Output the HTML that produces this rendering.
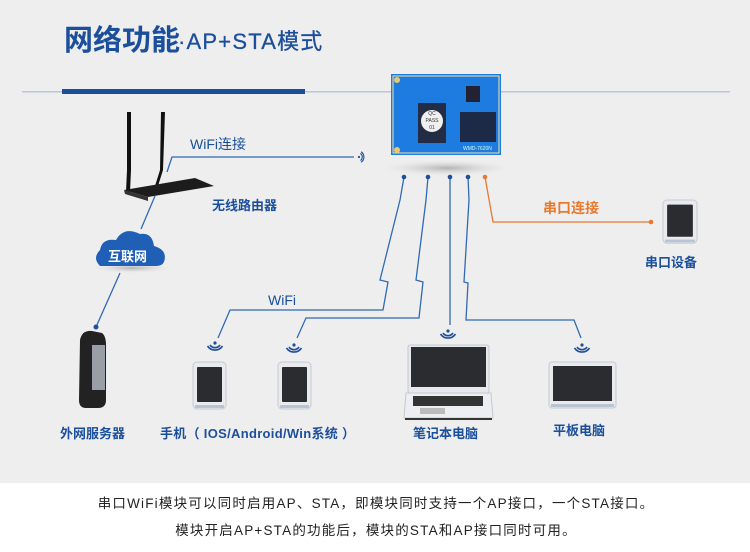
<!DOCTYPE html>
<html><head><meta charset="utf-8">
<style>
html,body{margin:0;padding:0;width:750px;height:552px;overflow:hidden;background:#eeeeee}
svg{display:block}
text{font-family:"Liberation Sans","Noto Sans CJK SC",sans-serif}
</style></head><body>
<svg width="750" height="552" viewBox="0 0 750 552" xmlns="http://www.w3.org/2000/svg">
<defs>
<radialGradient id="sh" cx="50%" cy="50%" r="50%"><stop offset="0" stop-color="#999" stop-opacity=".7"/><stop offset="1" stop-color="#ddd" stop-opacity="0"/></radialGradient>
<g id="wf"><circle cx="0" cy="0" r="1.6" fill="#1f4f9a"/><path d="M-5,2 A6,6 0 0,0 5,2" fill="none" stroke="#1f4f9a" stroke-width="1.6"/><path d="M-7.5,3 A9,9 0 0,0 7.5,3" fill="none" stroke="#1f4f9a" stroke-width="1.6"/></g>
<g id="ph"><rect x="0" y="0" width="33" height="47" rx="4" fill="#e8eaee" stroke="#c7cbd2"/><rect x="4" y="5" width="25" height="35" rx="1" fill="#2a2c30"/><rect x="2" y="43" width="29" height="3" fill="#b8c4d2"/></g>
</defs>
<rect x="0" y="0" width="750" height="483" fill="#eeeeee"/>
<rect x="0" y="483" width="750" height="69" fill="#ffffff"/>
<!-- title -->
<text x="64" y="50" font-size="29" font-weight="bold" fill="#1b4f9c">网络功能</text>
<text x="178" y="49" font-size="22" fill="#1b4f9c" letter-spacing="1.2" stroke="#1b4f9c" stroke-width="0.3">·AP+STA模式</text>
<rect x="22" y="91" width="708" height="1.5" fill="#b9c6d6"/>
<rect x="62" y="89" width="243" height="5" fill="#1b4f9c"/>
<!-- board -->
<ellipse cx="447" cy="168" rx="65" ry="8" fill="url(#sh)"/>
<rect x="391" y="74" width="110" height="81" fill="#1e7be0"/>
<rect x="393" y="76" width="106" height="77" fill="none" stroke="#f4e3a0" stroke-width="1"/>
<rect x="418" y="103" width="28" height="40" fill="#222c44"/>
<circle cx="432" cy="121" r="11" fill="#f0f0f0"/>
<text x="432" y="115" font-size="5" fill="#333" text-anchor="middle">QC</text>
<text x="432" y="122" font-size="5" fill="#333" text-anchor="middle">PASS</text>
<text x="432" y="129" font-size="5" fill="#333" text-anchor="middle">01</text>
<rect x="460" y="112" width="36" height="30" fill="#1c2a48"/>
<rect x="466" y="86" width="14" height="16" fill="#223"/>
<text x="463" y="150" font-size="5" fill="#cfe">WMD-7620N</text>
<circle cx="397" cy="80" r="3" fill="#e8c870"/><circle cx="397" cy="150" r="3" fill="#e8c870"/>
<!-- router -->
<path d="M127,112 L131,112 L131,170 L130,192 L126,192 L127,170Z" fill="#111"/>
<path d="M161,112 L165,112 L163,170 L158,186 L155,186 L160,170Z" fill="#111"/>
<path d="M124,190 L195,178 L214,186 L148,197 Z" fill="#1c1c1c"/>
<path d="M124,190 L148,197 L148,201 L125,194Z" fill="#333"/>
<path d="M167,172 L172,157 L354,157" fill="none" stroke="#2f6ab5" stroke-width="1.3"/>
<use href="#wf" transform="translate(359,157) rotate(-90) scale(.7)"/>
<text x="190" y="149" font-size="14" fill="#1b4f9c">WiFi连接</text>
<text x="212" y="210" font-size="13" font-weight="bold" fill="#1b4f9c">无线路由器</text>
<!-- cloud -->
<line x1="155" y1="196" x2="141" y2="229" stroke="#2f6ab5" stroke-width="1.3"/>
<ellipse cx="132" cy="268" rx="40" ry="5" fill="url(#sh)"/>
<path d="M100,266 Q92,258 100,250 Q102,238 116,240 Q124,226 140,234 Q152,232 154,246 Q168,250 164,262 Q162,266 156,266 Z" fill="#1f5fb5"/>
<text x="108" y="261" font-size="13" font-weight="bold" fill="#fff">互联网</text>
<line x1="120" y1="273" x2="96" y2="327" stroke="#2f6ab5" stroke-width="1.3"/>
<circle cx="96" cy="327" r="2.5" fill="#1f4f9a"/>
<!-- server -->
<path d="M80,340 Q82,330 92,331 L102,333 Q106,336 106,345 L106,400 Q106,408 98,408 L86,408 Q79,408 79,400 Z" fill="#222"/>
<rect x="92" y="345" width="13" height="45" fill="#9a9ea6"/>
<!-- connectors from board -->
<g fill="none" stroke="#2f6ab5" stroke-width="1.3">
<path d="M404,177 L400,200 L380,280 L388,282 L383,310 L230,310 L218,338"/>
<path d="M428,177 L426,200 L416,280 L423,282 L419,318 L306,318 L297,338"/>
<path d="M450,177 L450,325"/>
<path d="M468,177 L469,200 L464,282 L468,283 L466,320 L574,320 L581,338"/>
</g>
<path d="M485,177 L493,222 L651,222" fill="none" stroke="#e87a2e" stroke-width="1.3"/>
<circle cx="404" cy="177" r="2.3" fill="#1f4f9a"/><circle cx="428" cy="177" r="2.3" fill="#1f4f9a"/>
<circle cx="450" cy="177" r="2.3" fill="#1f4f9a"/><circle cx="468" cy="177" r="2.3" fill="#1f4f9a"/>
<circle cx="485" cy="177" r="2.3" fill="#e87a2e"/><circle cx="651" cy="222" r="2.3" fill="#e87a2e"/>
<text x="268" y="305" font-size="14" fill="#1b4f9c">WiFi</text>
<text x="543" y="213" font-size="14" font-weight="bold" fill="#e87a2e">串口连接</text>
<!-- wifi icons -->
<use href="#wf" transform="translate(215,343)"/>
<use href="#wf" transform="translate(294,345)"/>
<use href="#wf" transform="translate(448,331)"/>
<use href="#wf" transform="translate(582,345)"/>
<!-- devices -->
<use href="#ph" transform="translate(193,362)"/>
<use href="#ph" transform="translate(278,362)"/>
<use href="#ph" transform="translate(663,200) scale(1.03,.92)"/>
<rect x="408" y="345" width="81" height="48" rx="2" fill="#e6e8ec" stroke="#c5c9d0"/>
<rect x="411" y="347" width="75" height="40" fill="#2a2c30"/>
<path d="M406,393 L491,393 L493,418 L404,418 Z" fill="#eceef1" stroke="#c5c9d0"/>
<rect x="413" y="396" width="70" height="10" fill="#333"/>
<rect x="420" y="408" width="25" height="6" fill="#bbb"/>
<rect x="405" y="418" width="87" height="2" fill="#333"/>
<rect x="549" y="362" width="67" height="46" rx="3" fill="#e8eaee" stroke="#c5c9d0"/>
<rect x="553" y="366" width="59" height="35" fill="#2a2c30"/>
<rect x="551" y="404" width="63" height="3" fill="#b8c4d2"/>
<!-- labels -->
<g font-size="13" font-weight="bold" fill="#1b4f9c">
<text x="60" y="438">外网服务器</text>
<text x="160" y="438" letter-spacing="0.3">手机（ IOS/Android/Win系统 ）</text>
<text x="413" y="438">笔记本电脑</text>
<text x="553" y="435">平板电脑</text>
<text x="645" y="267">串口设备</text>
</g>
<g font-size="13.5" fill="#222" text-anchor="middle" letter-spacing="1.2">
<text x="376" y="508">串口WiFi模块可以同时启用AP、STA，即模块同时支持一个AP接口，一个STA接口。</text>
<text x="376" y="535">模块开启AP+STA的功能后，模块的STA和AP接口同时可用。</text>
</g>
</svg>
</body></html>
